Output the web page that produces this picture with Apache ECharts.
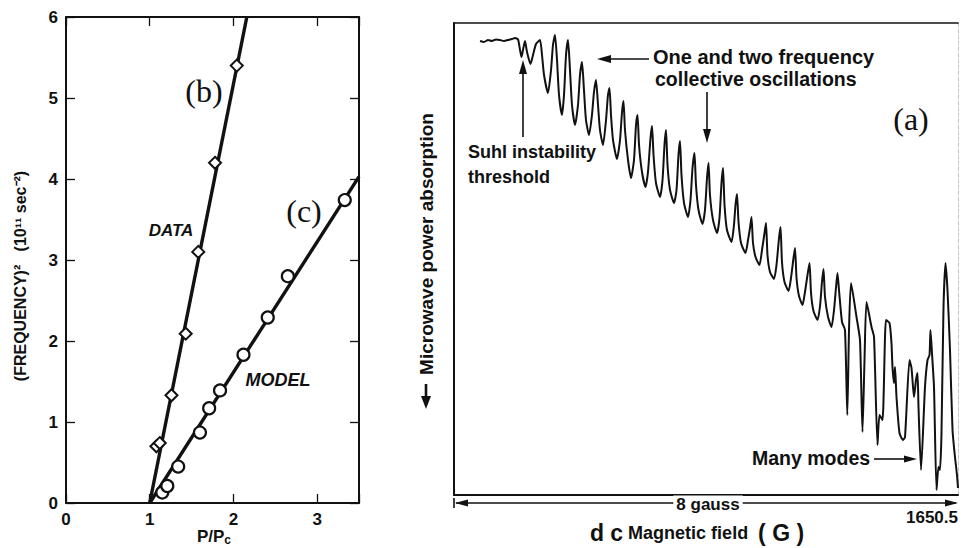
<!DOCTYPE html>
<html>
<head>
<meta charset="utf-8">
<script src="https://cdn.jsdelivr.net/npm/echarts@6/dist/echarts.min.js"></script>
<style>
html,body{margin:0;padding:0;background:#fff;}
#chart{width:963px;height:548px;}
</style>
</head>
<body>
<div id="chart"></div>
<script>
// ---------- Left panel data: (FREQUENCY)^2 vs P/Pc ----------
const dataP = [1.08, 1.12, 1.26, 1.43, 1.58, 1.78, 2.04];          // (b) DATA, diamonds
const dataF = [0.70, 0.74, 1.33, 2.09, 3.10, 4.20, 5.40];
const modelP = [1.15, 1.21, 1.34, 1.60, 1.71, 1.84, 2.12, 2.41, 2.65, 3.33]; // (c) MODEL, circles
const modelF = [0.13, 0.21, 0.45, 0.87, 1.17, 1.39, 1.83, 2.29, 2.80, 3.74];
const fitBx = [1, 2.16], fitBy = [0, 6];      // line through DATA
const fitCx = [1, 3.5],  fitCy = [0, 4.03];   // line through MODEL
const leftXTicks = [0, 1, 2, 3];
const leftYTicks = [0, 1, 2, 3, 4, 5, 6];

// ---------- Right panel data: absorption vs dc field ----------
const fieldStart = 1642.5;  // G
const fieldSpan = 8;        // gauss
const fieldOffset = [
0.413,0.476,0.540,0.603,0.667,0.730,0.794,0.857,0.921,0.968,1.016,1.048,1.071,1.095,1.127,1.159,1.214,1.254,1.302,1.365,
1.397,1.429,1.492,1.540,1.571,1.603,1.635,1.667,1.714,1.746,1.778,1.810,1.841,1.873,1.921,1.968,2.000,2.032,2.063,2.095,
2.143,2.190,2.222,2.254,2.286,2.317,2.365,2.413,2.444,2.468,2.492,2.524,2.587,2.635,2.667,2.690,2.714,2.762,2.810,2.857,
2.889,2.913,2.937,2.984,3.040,3.079,3.119,3.143,3.167,3.206,3.270,3.310,3.341,3.365,3.389,3.429,3.492,3.532,3.563,3.587,
3.611,3.651,3.714,3.754,3.786,3.817,3.841,3.881,3.944,3.984,4.016,4.040,4.063,4.111,4.175,4.214,4.246,4.270,4.294,4.333,
4.405,4.444,4.468,4.492,4.516,4.556,4.627,4.667,4.698,4.722,4.746,4.786,4.849,4.889,4.929,4.952,4.976,5.016,5.079,5.119,
5.159,5.183,5.206,5.246,5.310,5.349,5.389,5.413,5.437,5.476,5.532,5.571,5.611,5.643,5.667,5.706,5.770,5.810,5.841,5.865,
5.889,5.937,5.992,6.032,6.063,6.087,6.111,6.159,6.206,6.243,6.270,6.302,6.389,6.444,6.484,6.516,6.548,6.627,6.667,6.722,
6.754,6.802,6.857,6.913,6.944,6.960,6.984,7.000,7.024,7.071,7.127,7.159,7.230,7.262,7.302,7.333,7.357,7.373,7.413,7.476,
7.516,7.548,7.563,7.587,7.619,7.659,7.690,7.714,7.738,7.770,7.802,7.833,7.873,7.913,7.952,7.984,8.000];
const absorption = [
113.5,113.25,113.75,113.5,113.9,113.75,113.5,113.75,114,114.25,113.9,111.25,109.5,111.25,113.5,110.75,107.75,110,112.75,113.75,
110,105,100.5,106.25,112.5,115,108.75,100,95,100,110,113.75,106.25,97.5,92.5,97.5,105,108.25,101.25,93.75,
90,95,100.75,103.75,97.5,91.25,87.5,93.75,100,101.75,95,88.75,84,88.75,95.75,98.5,91.25,83.75,79.25,83.75,
92.5,95,87.5,80.75,77,80.75,89.25,92.25,85,78,74.5,78.75,87.5,91.25,82.5,76.25,73,76.25,85,88.5,
80,73,69.5,73.75,81.75,85.5,77.5,71.25,67.75,71.25,79.25,83,75,68.75,65.5,69.25,78,81.75,72.5,66.25,
63.25,67.5,72.5,75.25,68.25,63,60.5,63.75,66.75,69.5,63,59.5,57.5,61.25,65.5,68,60,55.75,54,57.5,
64.25,67,58.25,53.25,51,54.25,59.25,61.75,54.25,49.75,47.5,50.75,55,58,50.5,46,43.75,47.25,53.25,56.5,
49.5,44.5,42,46.25,51.75,55.5,51.25,43.25,41.25,20,41.25,53,44.5,38.75,15.75,33.75,48.25,42,39.5,12.5,
20,18.75,43.75,43,38,32,28,32,24.5,15.5,13.75,14.5,33.75,31.75,24.5,28.75,30.5,22,6.25,27,
33.75,35,41.25,35.5,27,1.25,7,6.25,15.5,47,58,51.25,36.25,16.25,9.5,5,1.75];

const zip = (a, b) => a.map((v, i) => [v, b[i]]);

const SANS = "'Liberation Sans', Arial, Helvetica, sans-serif";
const SERIF = "'Liberation Serif', 'DejaVu Serif', serif";
const BLACK = '#111';

const chart = echarts.init(document.getElementById('chart'), null, {renderer: 'svg'});

function txt(x, y, text, font, extra) {
  return Object.assign({type: 'text', x: x, y: y, style: Object.assign({
    text: text, font: font, fill: BLACK, textAlign: 'left', textVerticalAlign: 'middle'
  }, (extra && extra.style) || {})}, extra && extra.rotation ? {rotation: extra.rotation} : {});
}
function seg(x1, y1, x2, y2, w) {
  return {type: 'line', shape: {x1, y1, x2, y2}, style: {stroke: BLACK, lineWidth: w || 1.6}};
}
function head(points) {
  return {type: 'polygon', shape: {points: points}, style: {fill: BLACK}};
}

const tickLbl = {color: BLACK, fontFamily: SANS, fontWeight: 'bold', fontSize: 17};
const mkLine = (w) => ({show: true, onZero: false, lineStyle: {color: BLACK, width: w || 2}});
const mkTick = () => ({show: true, inside: true, length: 9, lineStyle: {color: BLACK, width: 1.3}});

const option = {
  backgroundColor: '#fff',
  animation: false,
  grid: [
    {left: 66, top: 17, width: 293, height: 486},
    {left: 454, top: 23, width: 504, height: 472}
  ],
  xAxis: [
    {gridIndex: 0, type: 'value', min: 0, max: 3.5, interval: 1, position: 'bottom',
     axisLine: mkLine(), axisTick: mkTick(),
     axisLabel: Object.assign({margin: 8, formatter: v => leftXTicks.includes(v) ? String(v) : ''}, tickLbl),
     splitLine: {show: false}},
    {gridIndex: 0, type: 'value', min: 0, max: 3.5, interval: 1, position: 'top',
     axisLine: mkLine(), axisTick: mkTick(),
     axisLabel: {show: false}, splitLine: {show: false}},
    {gridIndex: 1, type: 'value', min: 0, max: fieldSpan, interval: fieldSpan, position: 'bottom',
     axisLine: mkLine(), axisTick: {show: false},
     axisLabel: Object.assign({}, tickLbl, {fontSize: 17, margin: 14, align: 'right',
       formatter: v => v === fieldSpan ? (fieldStart + fieldSpan).toFixed(1) : ''}),
     splitLine: {show: false}},
    {gridIndex: 1, type: 'value', min: 0, max: fieldSpan, position: 'top',
     axisLine: mkLine(1.7), axisTick: {show: false}, axisLabel: {show: false}, splitLine: {show: false}}
  ],
  yAxis: [
    {gridIndex: 0, type: 'value', min: 0, max: 6, interval: 1, position: 'left',
     axisLine: mkLine(), axisTick: mkTick(),
     axisLabel: Object.assign({margin: 8, formatter: v => leftYTicks.includes(v) ? String(v) : ''}, tickLbl),
     splitLine: {show: false}},
    {gridIndex: 0, type: 'value', min: 0, max: 6, interval: 1, position: 'right',
     axisLine: mkLine(), axisTick: mkTick(),
     axisLabel: {show: false}, splitLine: {show: false}},
    {gridIndex: 1, type: 'value', min: 0, max: 118, position: 'left',
     axisLine: mkLine(), axisTick: {show: false}, axisLabel: {show: false}, splitLine: {show: false}},
    {gridIndex: 1, type: 'value', min: 0, max: 118, position: 'right',
     axisLine: {show: true, onZero: false, lineStyle: {color: '#c8c8c8', width: 1, type: 'dashed'}},
     axisTick: {show: false}, axisLabel: {show: false}, splitLine: {show: false}}
  ],
  series: [
    {type: 'line', xAxisIndex: 0, yAxisIndex: 0, data: zip(fitBx, fitBy), showSymbol: false,
     lineStyle: {color: BLACK, width: 3.4}, z: 2, silent: true},
    {type: 'line', xAxisIndex: 0, yAxisIndex: 0, data: zip(fitCx, fitCy), showSymbol: false,
     lineStyle: {color: BLACK, width: 3.4}, z: 2, silent: true},
    {type: 'scatter', xAxisIndex: 0, yAxisIndex: 0, data: zip(dataP, dataF), symbol: 'diamond',
     symbolSize: 12, itemStyle: {color: '#fff', opacity: 1, borderColor: BLACK, borderWidth: 2}, z: 5},
    {type: 'scatter', xAxisIndex: 0, yAxisIndex: 0, data: zip(modelP, modelF), symbol: 'circle',
     symbolSize: 12, itemStyle: {color: '#fff', opacity: 1, borderColor: BLACK, borderWidth: 2.2}, z: 5},
    {type: 'line', xAxisIndex: 2, yAxisIndex: 2, data: zip(fieldOffset, absorption), showSymbol: false,
     smooth: 0.2, lineStyle: {color: BLACK, width: 2}, z: 3, silent: true}
  ],
  graphic: [
    // left panel annotations
    txt(204, 91, '(b)', '32px ' + SERIF, {style: {textAlign: 'center'}}),
    txt(304, 211, '(c)', '32px ' + SERIF, {style: {textAlign: 'center'}}),
    txt(171, 230, 'DATA', 'italic bold 17px ' + SANS, {style: {textAlign: 'center'}}),
    txt(278, 380, 'MODEL', 'italic bold 18px ' + SANS, {style: {textAlign: 'center'}}),
    txt(20, 276, '(FREQUENCY)\u00B2   (10\u00B9\u00B9 sec\u207B\u00B2)', 'bold 16px ' + SANS,
        {rotation: Math.PI / 2, style: {textAlign: 'center'}}),
    {type: 'text', x: 214, y: 536, style: {
      text: '{a|P/P}{b|c}', textAlign: 'center', textVerticalAlign: 'middle',
      rich: {a: {font: 'bold 17px ' + SANS, fill: BLACK},
             b: {font: 'bold 12px ' + SANS, fill: BLACK, padding: [8, 0, 0, 0]}}}},
    // right panel annotations
    txt(653, 57, 'One and two frequency', 'bold 20px ' + SANS),
    txt(655, 79, 'collective oscillations', 'bold 19.5px ' + SANS),
    txt(911, 119, '(a)', '32px ' + SERIF, {style: {textAlign: 'center'}}),
    txt(468, 152, 'Suhl instability', 'bold 18px ' + SANS),
    txt(468, 177, 'threshold', 'bold 18px ' + SANS),
    txt(752, 458, 'Many modes', 'bold 19.5px ' + SANS),
    txt(426, 244, 'Microwave power absorption', 'bold 19px ' + SANS,
        {rotation: Math.PI / 2, style: {textAlign: 'center'}}),
    seg(426, 384, 426, 398, 2.6), head([[426, 409], [421, 396], [431, 396]]),
    {type: 'text', x: 697, y: 533, style: {
      text: '{a|d c}{b| Magnetic field  }{a|( G )}', textAlign: 'center', textVerticalAlign: 'middle',
      rich: {a: {font: 'bold 23px ' + SANS, fill: BLACK, lineHeight: 26},
             b: {font: 'bold 18px ' + SANS, fill: BLACK, lineHeight: 26}}}},
    // arrows
    seg(649, 59, 606, 59), head([[597, 59], [611, 55], [611, 63]]),
    seg(707, 92, 707, 131), head([[707, 143], [703, 129], [711, 129]]),
    seg(523, 137, 523, 72), head([[523, 60], [519, 74], [527, 74]]),
    seg(874, 459, 906, 459), head([[917, 459], [904, 455.5], [904, 462.5]]),
    // 8 gauss span
    seg(456, 503, 956, 503, 1.6),
    seg(454, 498, 454, 508, 1.6),
    head([[455, 503], [468, 499.5], [468, 506.5]]),
    head([[958, 503], [945, 499.5], [945, 506.5]]),
    {type: 'text', x: 708, y: 504, z: 10, style: {text: '8 gauss', font: 'bold 17px ' + SANS, fill: BLACK,
      textAlign: 'center', textVerticalAlign: 'middle', backgroundColor: '#fff', padding: [0, 3]}}
  ]
};
chart.setOption(option);
</script>
</body>
</html>
